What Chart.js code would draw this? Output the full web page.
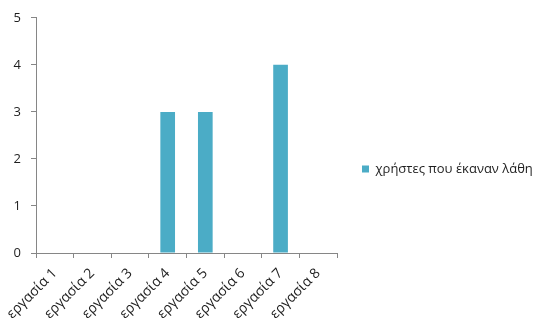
<!DOCTYPE html>
<html>
<head>
<meta charset="utf-8">
<script src="https://cdn.jsdelivr.net/npm/chart.js@4/dist/chart.umd.min.js"></script>
<style>
  html, body { margin: 0; padding: 0; background: #fff; }
  canvas { display: block; }
</style>
</head>
<body>
<canvas id="chart" width="539" height="323"></canvas>
<script>
// Tasks on the horizontal axis
const categories = ['εργασία 1', 'εργασία 2', 'εργασία 3', 'εργασία 4',
                    'εργασία 5', 'εργασία 6', 'εργασία 7', 'εργασία 8'];
// Number of users who made mistakes in each task
const seriesName = 'χρήστες που έκαναν λάθη';
const errorUsers = [0, 0, 0, 3, 3, 0, 4, 0];
// Value axis range
const yMin = 0;
const yMax = 5;
const yStep = 1;

const FONT = '"Open Sans", "DejaVu Sans", sans-serif';
const AXIS_GREY = '#868686';
const TEXT = '#1e1e1e';
const BAR = '#4BACC6';

// Fixes the width taken by the legend column on the right
const legendWidthPlugin = {
  id: 'legendWidth',
  beforeUpdate(chart) {
    const lg = chart.legend;
    if (lg && !lg._widthPatched) {
      const fit = lg.fit;
      lg.fit = function () {
        fit.call(this);
        this.width = 202;
      };
      lg._widthPatched = true;
    }
  }
};

new Chart(document.getElementById('chart'), {
  type: 'bar',
  data: {
    labels: categories,
    datasets: [{
      label: seriesName,
      data: errorUsers,
      backgroundColor: BAR,
      borderWidth: 0,
      barPercentage: 0.39,
      categoryPercentage: 1.0
    }]
  },
  options: {
    responsive: false,
    animation: false,
    devicePixelRatio: 1,
    layout: { padding: { top: 15, left: 0, right: 0, bottom: 0 } },
    plugins: {
      legend: {
        position: 'right',
        align: 'center',
        labels: {
          boxWidth: 7,
          boxHeight: 7,
          padding: 25,
          color: TEXT,
          font: { family: FONT, size: 13 }
        }
      },
      tooltip: { enabled: false }
    },
    scales: {
      x: {
        offset: true,
        grid: {
          offset: true,
          drawOnChartArea: false,
          drawTicks: true,
          tickLength: 5,
          color: AXIS_GREY
        },
        border: { color: AXIS_GREY, width: 1 },
        ticks: {
          minRotation: 45,
          maxRotation: 45,
          padding: 7,
          color: TEXT,
          font: { family: FONT, size: 14 }
        },
        afterFit(scale) { scale.height = 70; }
      },
      y: {
        min: yMin,
        max: yMax,
        grid: {
          drawOnChartArea: false,
          drawTicks: true,
          tickLength: 5,
          color: AXIS_GREY
        },
        border: { color: AXIS_GREY, width: 1 },
        ticks: {
          stepSize: yStep,
          padding: 10,
          color: TEXT,
          font: { family: FONT, size: 13 }
        },
        afterFit(scale) { scale.width = 36; }
      }
    }
  },
  plugins: [legendWidthPlugin]
});
</script>
</body>
</html>
